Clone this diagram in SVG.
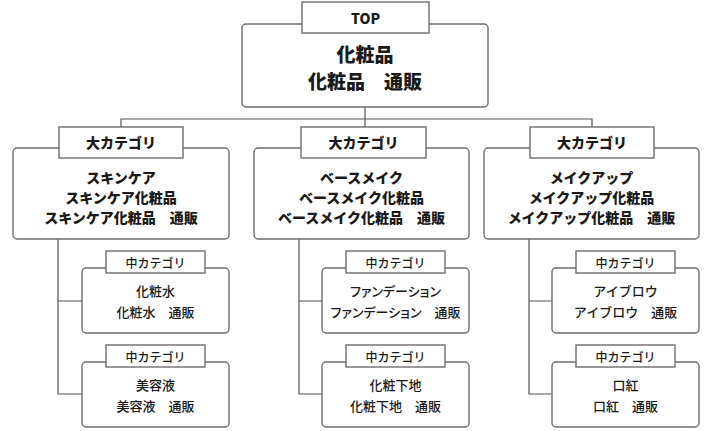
<svg xmlns="http://www.w3.org/2000/svg" width="720" height="431" viewBox="0 0 720 431">
<style>
.box{fill:#fff;stroke:#6e6e6e;stroke-width:1.4}
.tab{fill:#fff;stroke:#6e6e6e;stroke-width:1.4}
.con{fill:none;stroke:#555;stroke-width:1.2}
text{font-family:"Noto Sans CJK JP","Noto Sans",sans-serif;fill:#1a1a1a;text-anchor:middle;dominant-baseline:central}
.t0{font-size:19px;font-weight:900}
.tt{font-size:14px;font-weight:900}
.t1{font-size:14px;font-weight:900}
.t2{font-size:13px;font-weight:500}
.st{font-size:12px;font-weight:500}
.p{font-feature-settings:"palt"}
</style>
<rect width="720" height="431" fill="#fff"/>
<g id="connectors">
<path class="con" d="M365,107V119M121,127V119H592V127M365,119V127"/>
<path class="con" d="M58,239V394H82M58,301H82"/>
<path class="con" d="M299,239V394H322M299,301H322"/>
<path class="con" d="M529,239V394H552M529,301H552"/>
</g>
<g id="top">
<rect class="box" x="242" y="24" width="246" height="83" rx="4"/>
<rect class="tab" x="302" y="2" width="127" height="31"/>
<text class="tt" x="365.5" y="18">TOP</text>
<text class="t0" x="365" y="53">化粧品</text>
<text class="t0" x="365" y="80">化粧品　通販</text>
</g>
<g id="skincare">
<rect class="box" x="13" y="148" width="216" height="91" rx="4"/>
<rect class="tab" x="59" y="127" width="124" height="31"/>
<text class="tt" x="121" y="142">大カテゴリ</text>
<text class="t1" x="121" y="177">スキンケア</text>
<text class="t1" x="121" y="197">スキンケア化粧品</text>
<text class="t1" x="121" y="217">スキンケア化粧品　通販</text>
</g>
<g id="basemake">
<rect class="box" x="254" y="148" width="215" height="91" rx="4"/>
<rect class="tab" x="301" y="127" width="125" height="31"/>
<text class="tt" x="363.5" y="142">大カテゴリ</text>
<text class="t1" x="361.5" y="177">ベースメイク</text>
<text class="t1" x="361.5" y="197">ベースメイク化粧品</text>
<text class="t1" x="361.5" y="217">ベースメイク化粧品　通販</text>
</g>
<g id="makeup">
<rect class="box" x="484" y="148" width="215" height="91" rx="4"/>
<rect class="tab" x="530" y="127" width="124" height="31"/>
<text class="tt" x="592" y="142">大カテゴリ</text>
<text class="t1" x="591.5" y="177">メイクアップ</text>
<text class="t1" x="591.5" y="197">メイクアップ化粧品</text>
<text class="t1" x="591.5" y="217">メイクアップ化粧品　通販</text>
</g>
<g id="keshousui">
<rect class="box" x="82" y="268" width="147" height="65" rx="4"/>
<rect class="tab" x="106" y="251" width="99" height="22"/>
<text class="st" x="155.5" y="262">中カテゴリ</text>
<text class="t2" x="155.5" y="290">化粧水</text>
<text class="t2" x="155.5" y="311">化粧水　通販</text>
</g>
<g id="biyoueki">
<rect class="box" x="82" y="362" width="147" height="65" rx="4"/>
<rect class="tab" x="106" y="345" width="99" height="22"/>
<text class="st" x="155.5" y="356">中カテゴリ</text>
<text class="t2" x="155.5" y="384">美容液</text>
<text class="t2" x="155.5" y="405">美容液　通販</text>
</g>
<g id="foundation">
<rect class="box" x="322" y="268" width="147" height="65" rx="4"/>
<rect class="tab" x="346" y="251" width="99" height="22"/>
<text class="st" x="395.5" y="262">中カテゴリ</text>
<text class="t2 p" x="395.5" y="290">ファンデーション</text>
<text class="t2 p" x="395.5" y="311">ファンデーション　通販</text>
</g>
<g id="keshoushitaji">
<rect class="box" x="322" y="362" width="147" height="65" rx="4"/>
<rect class="tab" x="346" y="345" width="99" height="22"/>
<text class="st" x="395.5" y="356">中カテゴリ</text>
<text class="t2" x="395.5" y="384">化粧下地</text>
<text class="t2" x="395.5" y="405">化粧下地　通販</text>
</g>
<g id="eyebrow">
<rect class="box" x="552" y="268" width="147" height="65" rx="4"/>
<rect class="tab" x="576" y="251" width="99" height="22"/>
<text class="st" x="625.5" y="262">中カテゴリ</text>
<text class="t2" x="625.5" y="290">アイブロウ</text>
<text class="t2" x="625.5" y="311">アイブロウ　通販</text>
</g>
<g id="kuchibeni">
<rect class="box" x="552" y="362" width="147" height="65" rx="4"/>
<rect class="tab" x="576" y="345" width="99" height="22"/>
<text class="st" x="625.5" y="356">中カテゴリ</text>
<text class="t2" x="625.5" y="384">口紅</text>
<text class="t2" x="625.5" y="405">口紅　通販</text>
</g>
</svg>
